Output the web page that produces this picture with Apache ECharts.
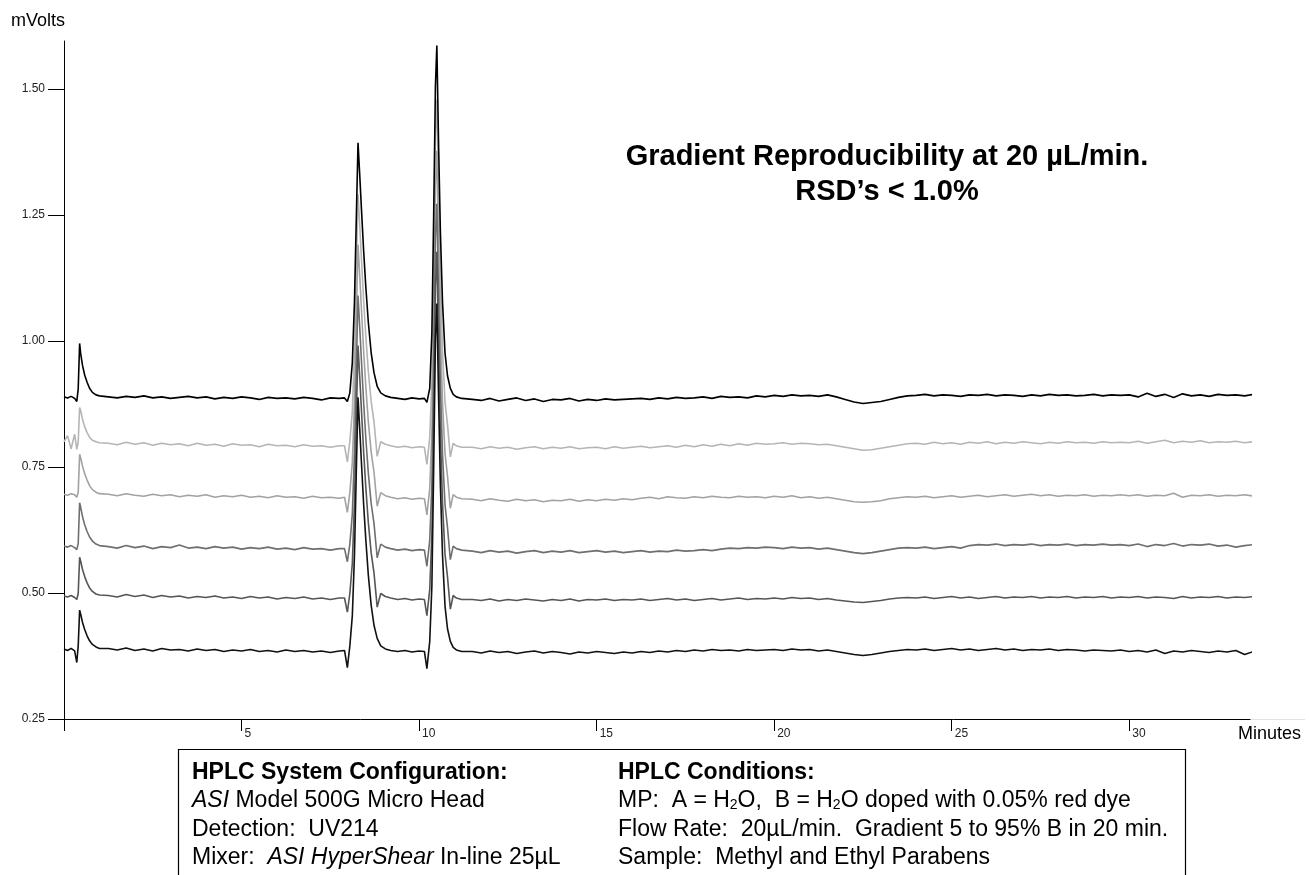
<!DOCTYPE html>
<html><head><meta charset="utf-8">
<script src="https://cdn.jsdelivr.net/npm/echarts@6/dist/echarts.min.js"></script>
<style>html,body{margin:0;padding:0;background:#fff}#c{width:1309px;height:875px}</style>
</head><body><div id="c"></div>
<script>
// retention time (minutes), shared by all six injections
const minutes = [
 0, 0.1, 0.2, 0.3, 0.36, 0.4, 0.44, 0.47, 0.52, 0.58, 0.65, 0.72, 0.8, 0.9, 1.0,
 1.25, 1.5, 1.75, 2, 2.25, 2.5, 2.75, 3, 3.25, 3.5, 3.75, 4, 4.25, 4.5, 4.75, 5, 5.25, 5.5, 5.75, 6, 6.25, 6.5, 6.75, 7, 7.25, 7.5, 7.75,
 7.9, 7.98, 8.05, 8.12, 8.18, 8.23, 8.28, 8.33, 8.38, 8.44, 8.5, 8.57, 8.65, 8.73, 8.82, 8.92, 9.05, 9.2,
 9.4, 9.6, 9.8, 10.0, 10.15,
 10.22, 10.3, 10.36, 10.41, 10.46, 10.5, 10.55, 10.6, 10.66, 10.73, 10.8, 10.88, 10.96, 11.05, 11.2,
 11.5, 11.75, 12, 12.25, 12.5, 12.75, 13, 13.25, 13.5, 13.75, 14, 14.25, 14.5, 14.75, 15, 15.25, 15.5, 15.75,
 16, 16.25, 16.5, 16.75, 17, 17.25, 17.5, 17.75, 18, 18.25, 18.5, 18.75, 19, 19.25, 19.5, 19.75,
 20, 20.25, 20.5, 20.75, 21, 21.25, 21.5, 21.75,
 22, 22.25, 22.5, 22.75, 23, 23.25, 23.5, 23.75,
 24, 24.25, 24.5, 24.75, 25, 25.25, 25.5, 25.75, 26, 26.25, 26.5, 26.75, 27, 27.25, 27.5, 27.75, 28, 28.25, 28.5, 28.75, 29, 29.25, 29.5, 29.75,
 30, 30.25, 30.5, 30.75, 31, 31.25, 31.5, 31.75, 32, 32.25, 32.5, 32.75, 33, 33.25, 33.5, 33.75, 34, 34.25, 34.5, 34.75, 35
];

// mVolts, top trace (black)
const trace1 = [
 0.889, 0.887, 0.890, 0.886, 0.880, 0.905, 0.995, 0.975, 0.952, 0.933, 0.918, 0.906, 0.898, 0.893, 0.891,
 0.889, 0.887, 0.890, 0.888, 0.891, 0.887, 0.889, 0.886, 0.888, 0.890, 0.887, 0.889, 0.885, 0.888, 0.886, 0.889, 0.887, 0.884, 0.888, 0.886, 0.887, 0.885, 0.888, 0.886, 0.883, 0.887, 0.886,
 0.887, 0.880, 0.897, 0.957, 1.077, 1.237, 1.393, 1.327, 1.257, 1.177, 1.107, 1.037, 0.977, 0.937, 0.910, 0.897, 0.891, 0.888,
 0.886, 0.884, 0.887, 0.885, 0.886,
 0.878, 0.906, 1.016, 1.246, 1.506, 1.586, 1.386, 1.216, 1.076, 0.976, 0.931, 0.906, 0.894, 0.889, 0.886,
 0.884, 0.882, 0.886, 0.881, 0.884, 0.887, 0.882, 0.885, 0.880, 0.884, 0.883, 0.886, 0.881, 0.884, 0.882, 0.885, 0.883, 0.884,
 0.885, 0.886, 0.884, 0.887, 0.885, 0.888, 0.886, 0.887, 0.889, 0.886, 0.890, 0.888, 0.889, 0.887, 0.891, 0.889,
 0.892, 0.890, 0.893, 0.891, 0.892, 0.890, 0.893, 0.889,
 0.884, 0.879, 0.876, 0.878, 0.880, 0.884, 0.888, 0.891,
 0.892, 0.894, 0.891, 0.893, 0.892, 0.890, 0.893, 0.892, 0.894, 0.891, 0.893, 0.892, 0.890, 0.893, 0.891, 0.894, 0.892, 0.893, 0.891, 0.892, 0.894, 0.891, 0.893, 0.892,
 0.893, 0.889, 0.896, 0.890, 0.894, 0.888, 0.895, 0.891, 0.893, 0.890, 0.894, 0.892, 0.893, 0.891, 0.894, 0.892, 0.893, 0.891, 0.893, 0.892, 0.893
];
// second trace (light grey)
const trace2 = [
 0.800, 0.812, 0.786, 0.815, 0.785, 0.800, 0.868, 0.862, 0.845, 0.830, 0.818, 0.809, 0.803, 0.800, 0.798,
 0.797, 0.794, 0.799, 0.795, 0.798, 0.793, 0.797, 0.794, 0.796, 0.792, 0.797, 0.793, 0.795, 0.791, 0.796, 0.793, 0.794, 0.790, 0.795, 0.792, 0.793, 0.790, 0.794, 0.791, 0.792, 0.789, 0.792,
 0.792, 0.760, 0.801, 0.860, 0.980, 1.138, 1.291, 1.227, 1.158, 1.078, 1.009, 0.940, 0.880, 0.840, 0.771, 0.800, 0.795, 0.792,
 0.789, 0.791, 0.788, 0.790, 0.789,
 0.755, 0.809, 0.919, 1.149, 1.409, 1.479, 1.289, 1.119, 0.979, 0.879, 0.834, 0.770, 0.797, 0.792, 0.789,
 0.789, 0.786, 0.790, 0.787, 0.789, 0.785, 0.788, 0.790, 0.786, 0.789, 0.787, 0.790, 0.786, 0.788, 0.789, 0.786, 0.790, 0.787,
 0.789, 0.791, 0.788, 0.790, 0.792, 0.789, 0.793, 0.790, 0.794, 0.791, 0.795, 0.792, 0.796, 0.793, 0.797, 0.795,
 0.796, 0.798, 0.795, 0.797, 0.796, 0.794, 0.795, 0.792,
 0.789, 0.786, 0.783, 0.784, 0.787, 0.790, 0.793, 0.796,
 0.797, 0.795, 0.799, 0.796, 0.798, 0.795, 0.799, 0.797, 0.800, 0.796, 0.799, 0.797, 0.800, 0.798, 0.796, 0.799, 0.797, 0.800, 0.798, 0.799, 0.797, 0.800, 0.798, 0.799,
 0.798, 0.801, 0.797, 0.800, 0.803, 0.798, 0.801, 0.799, 0.802, 0.798, 0.800, 0.799, 0.801, 0.798, 0.800, 0.799, 0.801, 0.797, 0.802, 0.799, 0.800
];
// third trace (grey)
const trace3 = [
 0.696, 0.694, 0.697, 0.695, 0.690, 0.700, 0.775, 0.768, 0.752, 0.737, 0.724, 0.713, 0.705, 0.700, 0.697,
 0.696, 0.693, 0.697, 0.694, 0.692, 0.696, 0.693, 0.695, 0.691, 0.694, 0.692, 0.695, 0.690, 0.693, 0.691, 0.694, 0.690, 0.692, 0.689, 0.693, 0.690, 0.691, 0.688, 0.692, 0.689, 0.690, 0.688,
 0.690, 0.660, 0.699, 0.759, 0.879, 1.039, 1.191, 1.127, 1.058, 0.978, 0.909, 0.840, 0.780, 0.740, 0.672, 0.699, 0.693, 0.690,
 0.687, 0.689, 0.686, 0.688, 0.687,
 0.655, 0.707, 0.817, 1.047, 1.307, 1.377, 1.187, 1.017, 0.877, 0.777, 0.732, 0.668, 0.695, 0.690, 0.687,
 0.686, 0.683, 0.687, 0.684, 0.682, 0.686, 0.683, 0.685, 0.681, 0.684, 0.683, 0.686, 0.682, 0.685, 0.683, 0.686, 0.684, 0.687,
 0.685, 0.688, 0.690, 0.687, 0.691, 0.689, 0.688, 0.691, 0.689, 0.692, 0.690, 0.689, 0.692, 0.690, 0.691, 0.689,
 0.692, 0.690, 0.693, 0.689, 0.691, 0.688, 0.690, 0.687,
 0.684, 0.681, 0.680, 0.681, 0.683, 0.687, 0.689, 0.691,
 0.690, 0.692, 0.689, 0.691, 0.693, 0.690, 0.692, 0.694, 0.691, 0.693, 0.695, 0.692, 0.694, 0.696, 0.693, 0.695, 0.692, 0.694, 0.693, 0.695, 0.692, 0.694, 0.693, 0.695,
 0.693, 0.695, 0.692, 0.694, 0.693, 0.698, 0.690, 0.694, 0.693, 0.695, 0.692, 0.694, 0.693, 0.695, 0.692, 0.694, 0.697, 0.693, 0.695, 0.693, 0.694
];
// fourth trace (dark grey)
const trace4 = [
 0.593, 0.591, 0.594, 0.590, 0.586, 0.598, 0.679, 0.670, 0.652, 0.636, 0.622, 0.611, 0.603, 0.597, 0.594,
 0.592, 0.589, 0.594, 0.590, 0.593, 0.588, 0.592, 0.590, 0.595, 0.589, 0.591, 0.588, 0.592, 0.589, 0.591, 0.587, 0.590, 0.588, 0.591, 0.587, 0.589, 0.586, 0.590, 0.587, 0.588, 0.585, 0.588,
 0.588, 0.562, 0.597, 0.657, 0.777, 0.937, 1.090, 1.025, 0.956, 0.876, 0.807, 0.738, 0.678, 0.638, 0.570, 0.597, 0.591, 0.588,
 0.585, 0.587, 0.584, 0.586, 0.585,
 0.553, 0.605, 0.715, 0.945, 1.205, 1.272, 1.085, 0.915, 0.775, 0.675, 0.630, 0.566, 0.593, 0.588, 0.585,
 0.583, 0.580, 0.584, 0.581, 0.583, 0.579, 0.582, 0.584, 0.580, 0.583, 0.581, 0.584, 0.580, 0.582, 0.584, 0.581, 0.583, 0.580,
 0.582, 0.584, 0.581, 0.583, 0.582, 0.585, 0.583, 0.584, 0.586, 0.584, 0.587, 0.589, 0.588, 0.590, 0.589, 0.591,
 0.590, 0.588, 0.591, 0.589, 0.590, 0.587, 0.589, 0.586,
 0.583, 0.580, 0.578, 0.580, 0.583, 0.586, 0.589, 0.590,
 0.589, 0.591, 0.588, 0.590, 0.592, 0.589, 0.594, 0.596, 0.595, 0.597, 0.594, 0.596, 0.595, 0.597, 0.594, 0.596, 0.595, 0.597, 0.594, 0.596, 0.595, 0.597, 0.595, 0.596,
 0.594, 0.597, 0.592, 0.596, 0.594, 0.598, 0.593, 0.596, 0.595, 0.597, 0.593, 0.595, 0.591, 0.594, 0.596, 0.598, 0.594, 0.597, 0.595, 0.596, 0.595
];
// fifth trace (darker grey)
const trace5 = [
 0.494, 0.492, 0.495, 0.491, 0.487, 0.499, 0.571, 0.563, 0.547, 0.533, 0.520, 0.510, 0.503, 0.498, 0.496,
 0.495, 0.492, 0.497, 0.493, 0.496, 0.491, 0.495, 0.492, 0.494, 0.490, 0.493, 0.491, 0.494, 0.490, 0.492, 0.489, 0.493, 0.490, 0.492, 0.488, 0.491, 0.489, 0.492, 0.488, 0.490, 0.487, 0.490,
 0.490, 0.462, 0.499, 0.559, 0.679, 0.839, 0.991, 0.927, 0.858, 0.778, 0.709, 0.640, 0.580, 0.540, 0.472, 0.499, 0.493, 0.490,
 0.487, 0.489, 0.486, 0.488, 0.487,
 0.455, 0.507, 0.617, 0.847, 1.107, 1.177, 0.987, 0.817, 0.677, 0.577, 0.532, 0.468, 0.495, 0.490, 0.487,
 0.487, 0.485, 0.488, 0.484, 0.487, 0.485, 0.488, 0.486, 0.484, 0.487, 0.485, 0.488, 0.484, 0.487, 0.486, 0.488, 0.485, 0.487,
 0.486, 0.488, 0.485, 0.487, 0.489, 0.486, 0.488, 0.485, 0.487, 0.489, 0.486, 0.488, 0.490, 0.487, 0.489, 0.488,
 0.490, 0.488, 0.491, 0.489, 0.490, 0.487, 0.489, 0.486,
 0.484, 0.482, 0.481, 0.483, 0.485, 0.488, 0.490, 0.491,
 0.490, 0.492, 0.489, 0.491, 0.493, 0.490, 0.492, 0.489, 0.491, 0.493, 0.490, 0.492, 0.491, 0.493, 0.490, 0.492, 0.491, 0.493, 0.490, 0.492, 0.491, 0.493, 0.490, 0.492,
 0.491, 0.493, 0.490, 0.492, 0.491, 0.489, 0.493, 0.490, 0.492, 0.491, 0.493, 0.490, 0.492, 0.491, 0.493, 0.490, 0.492, 0.491, 0.493, 0.491, 0.492
];
// bottom trace (black)
const trace6 = [
 0.389, 0.386, 0.390, 0.385, 0.362, 0.395, 0.466, 0.458, 0.442, 0.428, 0.415, 0.405, 0.398, 0.393, 0.390,
 0.390, 0.387, 0.391, 0.386, 0.389, 0.385, 0.390, 0.387, 0.388, 0.385, 0.389, 0.386, 0.388, 0.384, 0.387, 0.385, 0.388, 0.384, 0.386, 0.383, 0.387, 0.384, 0.386, 0.383, 0.385, 0.382, 0.385,
 0.386, 0.352, 0.395, 0.455, 0.575, 0.735, 0.888, 0.823, 0.754, 0.674, 0.605, 0.536, 0.476, 0.436, 0.410, 0.395, 0.389, 0.386,
 0.384, 0.386, 0.383, 0.385, 0.384,
 0.350, 0.404, 0.514, 0.744, 1.004, 1.074, 0.884, 0.714, 0.574, 0.474, 0.429, 0.404, 0.392, 0.387, 0.384,
 0.384, 0.381, 0.385, 0.382, 0.384, 0.380, 0.383, 0.385, 0.381, 0.384, 0.382, 0.379, 0.383, 0.381, 0.384, 0.382, 0.380, 0.383,
 0.381, 0.384, 0.382, 0.385, 0.383, 0.386, 0.384, 0.387, 0.385, 0.388, 0.386, 0.387, 0.385, 0.388, 0.386, 0.387,
 0.388, 0.386, 0.389, 0.387, 0.388, 0.385, 0.387, 0.384,
 0.381, 0.378, 0.376, 0.378, 0.381, 0.384, 0.386, 0.388,
 0.387, 0.389, 0.386, 0.388, 0.390, 0.387, 0.389, 0.386, 0.388, 0.390, 0.387, 0.389, 0.386, 0.388, 0.387, 0.389, 0.386, 0.388, 0.387, 0.385, 0.387, 0.386, 0.385, 0.387,
 0.384, 0.386, 0.383, 0.387, 0.380, 0.385, 0.383, 0.386, 0.384, 0.382, 0.385, 0.383, 0.386, 0.378, 0.384, 0.382, 0.385, 0.383, 0.386, 0.380, 0.384
];

const yTickValues = [0.25, 0.5, 0.75, 1.0, 1.25, 1.5];
const xTickValues = [0, 5, 10, 15, 20, 25, 30];
const xLabelValues = [5, 10, 15, 20, 25, 30];

const FF = '"Liberation Sans", Arial, Helvetica, sans-serif';
const drawOrder = [
  {data: trace2, color: '#b5b5b5'},
  {data: trace3, color: '#a2a2a2'},
  {data: trace4, color: '#6f6f6f'},
  {data: trace5, color: '#565656'},
  {data: trace6, color: '#111111'},
  {data: trace1, color: '#000000'}
];
drawOrder.forEach(d => { if (d.data.length !== minutes.length) console.warn('length mismatch', d.data.length, minutes.length); });

const chart = echarts.init(document.getElementById('c'), null, {renderer: 'canvas'});
const BOX_FS = 23;
const txt = (x, y, text, opts) => Object.assign({
  type: 'text', x: x, y: y, silent: true,
  style: Object.assign({text: text, fill: '#000', fontFamily: FF, fontSize: BOX_FS,
    align: 'left', textAlign: 'left', verticalAlign: 'middle', textVerticalAlign: 'middle'}, opts || {})
});
const italic = {fontStyle: 'italic', fontSize: BOX_FS, fontFamily: FF, fill: '#000'};
const sub = {fontSize: 14, fontFamily: FF, fill: '#000', verticalAlign: 'bottom', lineHeight: 23};

chart.setOption({
  animation: false,
  backgroundColor: '#fff',
  grid: {left: 64, right: 59, top: 41, bottom: 156, containLabel: false, outerBoundsMode: 'none'},
  xAxis: {
    type: 'value', min: 0, max: 33.4,
    axisLine: {show: true, onZero: false, lineStyle: {color: '#000', width: 1}},
    axisTick: {show: true, length: 12, customValues: xTickValues, lineStyle: {color: '#000', width: 1}},
    axisLabel: {customValues: xLabelValues, align: 'left', padding: [0, 0, 0, 3], margin: 9,
      fontSize: 12, color: '#222', fontFamily: FF},
    splitLine: {show: false}
  },
  yAxis: {
    type: 'value', min: 0.25, max: 1.595, interval: 0.25,
    axisLine: {show: true, onZero: false, lineStyle: {color: '#000', width: 1}},
    axisTick: {show: true, length: 16, customValues: yTickValues, lineStyle: {color: '#000', width: 1}},
    axisLabel: {customValues: yTickValues, formatter: v => v.toFixed(2), margin: 19,
      fontSize: 12, color: '#222', fontFamily: FF},
    splitLine: {show: false}
  },
  series: drawOrder.map(d => ({
    type: 'line', symbol: 'none', showSymbol: false, clip: false, silent: true,
    data: minutes.map((t, i) => [t, d.data[i]]),
    lineStyle: {color: d.color, width: 1.6}
  })),
  graphic: [
    {type: 'line', silent: true, shape: {x1: 1250, y1: 719.5, x2: 1305, y2: 719.5},
     style: {stroke: '#e2e2e2', lineWidth: 1}},
    txt(11, 21, 'mVolts', {fontSize: 18}),
    txt(1238, 734, 'Minutes', {fontSize: 18}),
    txt(887, 157, 'Gradient Reproducibility at 20 µL/min.', {fontSize: 29, fontWeight: 'bold', align: 'center', textAlign: 'center'}),
    txt(887, 192, 'RSD’s < 1.0%', {fontSize: 29, fontWeight: 'bold', align: 'center', textAlign: 'center'}),
    {type: 'rect', silent: true, shape: {x: 178.5, y: 749.5, width: 1007, height: 140},
     style: {fill: 'none', stroke: '#000', lineWidth: 1.2}},
    txt(192, 773, 'HPLC System Configuration:', {fontWeight: 'bold'}),
    txt(192, 801, '{i|ASI} Model 500G Micro Head', {rich: {i: italic}}),
    txt(192, 830, 'Detection:  UV214'),
    txt(192, 858, 'Mixer:  {i|ASI HyperShear} In-line 25µL', {rich: {i: italic}}),
    txt(618, 773, 'HPLC Conditions:', {fontWeight: 'bold'}),
    txt(618, 801, 'MP:  A = H{s|2}O,  B = H{s|2}O doped with 0.05% red dye', {rich: {s: sub}}),
    txt(618, 830, 'Flow Rate:  20µL/min.  Gradient 5 to 95% B in 20 min.'),
    txt(618, 858, 'Sample:  Methyl and Ethyl Parabens')
  ]
});
</script>
</body></html>
